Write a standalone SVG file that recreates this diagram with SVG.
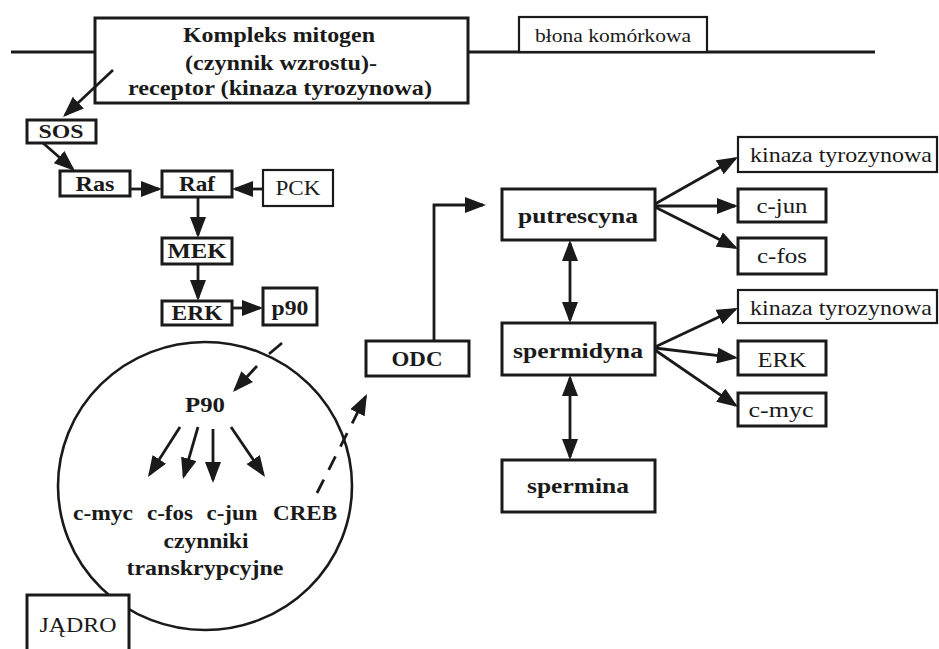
<svg xmlns="http://www.w3.org/2000/svg" width="939" height="649" viewBox="0 0 939 649" font-family="Liberation Serif, Times New Roman, Times, serif">
<style>
text{fill:#1a1a1a;text-anchor:middle}
.b{font-weight:bold}
.box{fill:#fff;stroke:#1a1a1a;stroke-width:3}
.thin{fill:#fff;stroke:#1a1a1a;stroke-width:2.2}
.ln{fill:none;stroke:#1a1a1a;stroke-width:2.8}
.arr{fill:none;stroke:#1a1a1a;stroke-width:2.8;marker-end:url(#ah)}
.dbl{fill:none;stroke:#1a1a1a;stroke-width:2.8;marker-end:url(#ah);marker-start:url(#ah)}
.dash{stroke-dasharray:15 11}
</style>
<defs>
<marker id="ah" markerUnits="userSpaceOnUse" viewBox="0 0 21 16" markerWidth="21" markerHeight="16" refX="18" refY="8" orient="auto-start-reverse">
<path d="M0,0 L21,8 L0,16 z" fill="#1a1a1a"/>
</marker>
</defs>

<line class="ln" x1="11" y1="52" x2="875" y2="52"/>

<g id="nucleus">
<ellipse cx="205" cy="486" rx="147" ry="144" fill="none" stroke="#1a1a1a" stroke-width="2.6"/>
<text class="b" x="205" y="412" font-size="22" textLength="40" lengthAdjust="spacingAndGlyphs">P90</text>
<text class="b" x="103" y="520" font-size="22" textLength="60" lengthAdjust="spacingAndGlyphs">c-myc</text>
<text class="b" x="170" y="520" font-size="22" textLength="46" lengthAdjust="spacingAndGlyphs">c-fos</text>
<text class="b" x="232" y="520" font-size="22" textLength="51" lengthAdjust="spacingAndGlyphs">c-jun</text>
<text class="b" x="305" y="520" font-size="22" textLength="64" lengthAdjust="spacingAndGlyphs">CREB</text>
<text class="b" x="206" y="548" font-size="22" textLength="85" lengthAdjust="spacingAndGlyphs">czynniki</text>
<text class="b" x="205" y="575" font-size="22" textLength="157" lengthAdjust="spacingAndGlyphs">transkrypcyjne</text>
</g>

<g id="jadro">
<rect class="box" x="27" y="595" width="102" height="60"/>
<text x="78" y="632" font-size="20" textLength="77" lengthAdjust="spacingAndGlyphs">JĄDRO</text>
</g>

<g id="receptor">
<rect class="box" x="95" y="18" width="373" height="85"/>
<text class="b" x="279" y="42" font-size="22" textLength="192" lengthAdjust="spacingAndGlyphs">Kompleks mitogen</text>
<text class="b" x="281" y="70" font-size="22" textLength="192" lengthAdjust="spacingAndGlyphs">(czynnik wzrostu)-</text>
<text class="b" x="280" y="95" font-size="22" textLength="304" lengthAdjust="spacingAndGlyphs">receptor (kinaza tyrozynowa)</text>
</g>

<g id="blona">
<rect class="thin" x="519" y="17" width="188" height="35"/>
<text x="613" y="42" font-size="18" textLength="156" lengthAdjust="spacingAndGlyphs">błona komórkowa</text>
</g>

<g id="sos"><rect class="box" x="27" y="120" width="69" height="23"/>
<text class="b" x="61" y="138" font-size="19" textLength="45" lengthAdjust="spacingAndGlyphs">SOS</text></g>
<g id="ras"><rect class="box" x="60" y="171" width="70" height="25"/>
<text class="b" x="95" y="191" font-size="20" textLength="39" lengthAdjust="spacingAndGlyphs">Ras</text></g>
<g id="raf"><rect class="box" x="162" y="171" width="70" height="26"/>
<text class="b" x="197" y="191" font-size="20" textLength="36" lengthAdjust="spacingAndGlyphs">Raf</text></g>
<g id="pck"><rect class="thin" x="263" y="170" width="70" height="36"/>
<text x="298" y="195" font-size="20" textLength="45" lengthAdjust="spacingAndGlyphs">PCK</text></g>
<g id="mek"><rect class="box" x="162" y="238" width="70" height="26"/>
<text class="b" x="197" y="258" font-size="20" textLength="59" lengthAdjust="spacingAndGlyphs">MEK</text></g>
<g id="erk"><rect class="box" x="162" y="301" width="70" height="24"/>
<text class="b" x="197" y="320" font-size="20" textLength="51" lengthAdjust="spacingAndGlyphs">ERK</text></g>
<g id="p90"><rect class="box" x="263" y="288" width="54" height="37"/>
<text class="b" x="290" y="315" font-size="21" textLength="37" lengthAdjust="spacingAndGlyphs">p90</text></g>

<g id="odc"><rect class="box" x="366" y="341" width="103" height="35"/>
<text class="b" x="417" y="366" font-size="20" textLength="51" lengthAdjust="spacingAndGlyphs">ODC</text></g>
<g id="putrescyna"><rect class="box" x="502" y="189" width="153" height="51"/>
<text class="b" x="578" y="223" font-size="21" textLength="120" lengthAdjust="spacingAndGlyphs">putrescyna</text></g>
<g id="spermidyna"><rect class="box" x="502" y="323" width="153" height="52"/>
<text class="b" x="578" y="358" font-size="21" textLength="130" lengthAdjust="spacingAndGlyphs">spermidyna</text></g>
<g id="spermina"><rect class="box" x="502" y="460" width="153" height="52"/>
<text class="b" x="578" y="493" font-size="21" textLength="102" lengthAdjust="spacingAndGlyphs">spermina</text></g>

<g id="kinaza1"><rect class="thin" x="738" y="137" width="199" height="35"/>
<text x="841" y="162" font-size="21" textLength="182" lengthAdjust="spacingAndGlyphs">kinaza tyrozynowa</text></g>
<g id="cjun"><rect class="box" x="738" y="189" width="88" height="33"/>
<text x="782" y="213" font-size="21" textLength="51" lengthAdjust="spacingAndGlyphs">c-jun</text></g>
<g id="cfos"><rect class="box" x="738" y="238" width="88" height="36"/>
<text x="782" y="263" font-size="21" textLength="50" lengthAdjust="spacingAndGlyphs">c-fos</text></g>
<g id="kinaza2"><rect class="thin" x="738" y="290" width="199" height="33"/>
<text x="841" y="315" font-size="21" textLength="182" lengthAdjust="spacingAndGlyphs">kinaza tyrozynowa</text></g>
<g id="erk2"><rect class="box" x="738" y="341" width="88" height="34"/>
<text x="782" y="367" font-size="21" textLength="49" lengthAdjust="spacingAndGlyphs">ERK</text></g>
<g id="cmyc"><rect class="box" x="738" y="393" width="88" height="33"/>
<text x="781" y="417" font-size="21" textLength="65" lengthAdjust="spacingAndGlyphs">c-myc</text></g>

<g id="connectors">
<line class="arr" x1="113" y1="70" x2="65.2" y2="114.9"/>
<line class="arr" x1="43" y1="143" x2="72.7" y2="169"/>
<line class="arr" x1="130" y1="189" x2="159" y2="189"/>
<line class="arr" x1="263" y1="189" x2="235" y2="189"/>
<line class="arr" x1="198" y1="197" x2="198" y2="235"/>
<line class="arr" x1="198" y1="264" x2="198" y2="298"/>
<line class="arr" x1="232" y1="308" x2="260" y2="308"/>
<line class="ln" x1="282" y1="343" x2="269" y2="354"/>
<line class="arr" x1="257" y1="366" x2="235" y2="389.8"/>
<line class="arr" x1="180" y1="427" x2="149.6" y2="474.5"/>
<line class="arr" x1="198" y1="427" x2="183.8" y2="476.1"/>
<line class="arr" x1="213" y1="429" x2="213" y2="480"/>
<line class="arr" x1="231" y1="427" x2="263.3" y2="474.5"/>
<line class="arr dash" x1="317" y1="493" x2="365.6" y2="396.7"/>
<polyline class="arr" points="434,341 434,205 483,205"/>
<line class="arr" x1="655" y1="204" x2="735.4" y2="158.5"/>
<line class="arr" x1="655" y1="206" x2="735" y2="206"/>
<line class="arr" x1="655" y1="207" x2="735.3" y2="247.6"/>
<line class="dbl" x1="570" y1="243" x2="570" y2="320"/>
<line class="arr" x1="655" y1="347" x2="735.3" y2="309.3"/>
<line class="arr" x1="655" y1="348" x2="735" y2="357.6"/>
<line class="arr" x1="655" y1="350" x2="735.5" y2="405.3"/>
<line class="dbl" x1="570" y1="378" x2="570" y2="457"/>
</g>
</svg>
